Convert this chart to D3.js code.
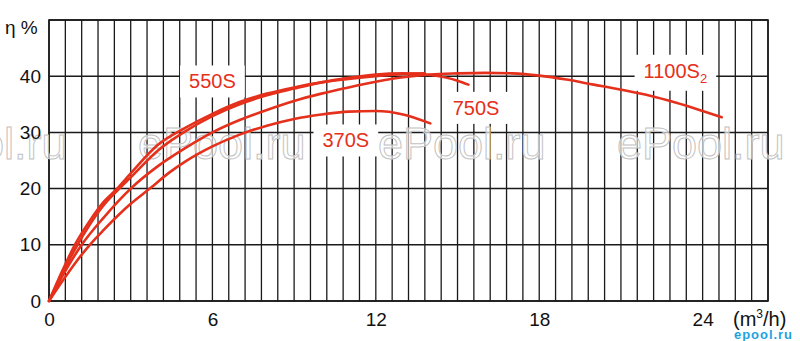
<!DOCTYPE html>
<html>
<head>
<meta charset="utf-8">
<script src="https://cdn.jsdelivr.net/npm/d3@7"></script>
<style>
body { margin: 0; background: #fff; }
svg { display: block; font-family: "Liberation Sans", Arial, sans-serif; }
</style>
</head>
<body>
<svg id="drawing_region"></svg>
<script>
// axis ticks
const xTicks = [0, 6, 12, 18, 24];
const yTicks = [0, 10, 20, 30, 40];

// efficiency curves, flow in m3/h and eta in %
const flow370 = [0, 0.5, 1, 1.5, 2, 3, 3.7, 4.4, 5, 6, 7, 8, 9, 10, 11, 12, 13, 14];
const eta370 = [0, 3.6, 7, 10, 12.6, 17.3, 20, 22.8, 24.8, 27.5, 29.6, 31.2, 32.4, 33.2, 33.7, 33.8, 33.2, 31.6];

const flow550 = [0, 0.5, 0.95, 1.5, 2, 2.5, 3, 4, 5, 6, 7, 8, 9, 10, 11, 12, 13, 13.8];
const eta550 = [0, 5.5, 10, 14.3, 17.6, 20, 22.7, 27.8, 30.8, 33.3, 35.4, 36.9, 38, 38.9, 39.5, 40, 40.4, 40.5];

const flow750 = [0, 0.5, 1, 1.5, 2, 2.5, 3, 4, 5, 6, 7, 8, 9, 10, 11, 12, 13, 14, 15, 15.4];
const eta750 = [0, 5, 9.6, 13.6, 17, 19.6, 22, 26.8, 30.2, 32.9, 35, 36.6, 37.8, 38.9, 39.7, 40.3, 40.5, 40.2, 39.2, 38.5];

const flow1100 = [0, 0.5, 1.2, 2, 3, 4, 5, 6, 7, 8, 9, 10, 11, 12, 13, 14, 15, 16, 17, 18, 19, 20, 21, 22, 23, 24, 24.7];
const eta1100 = [0, 4.5, 10, 14.8, 20, 24, 27.2, 30, 32.2, 34, 35.6, 36.9, 38, 39, 39.8, 40.3, 40.5, 40.6, 40.5, 40.1, 39.4, 38.5, 37.6, 36.6, 35.3, 33.8, 32.7];

const seriesNames = ['370S', '550S', '750S', '1100S'];

class EfficiencyChart {

    constructor(config, data) {
        this.config = config;
        this.data = data;
        this.init();
    }

    init() {
        let self = this;

        self.svg = d3.select(self.config.parent)
            .attr('width', self.config.width)
            .attr('height', self.config.height);

        self.chart = self.svg.append('g')
            .attr('transform', `translate(${self.config.margin.left}, ${self.config.margin.top})`);

        self.inner_width = self.config.width - self.config.margin.left - self.config.margin.right;
        self.inner_height = self.config.height - self.config.margin.top - self.config.margin.bottom;

        self.xscale = d3.scaleLinear()
            .domain([0, 26.4])
            .range([0, self.inner_width]);

        self.yscale = d3.scaleLinear()
            .domain([0, 50])
            .range([self.inner_height, 0]);

        self.line = d3.line()
            .x(d => self.xscale(d[0]))
            .y(d => self.yscale(d[1]))
            .curve(d3.curveMonotoneX);

        // layers, back to front
        self.grid_layer = self.chart.append('g');
        self.wm_layer = self.chart.append('g')
            .attr('transform', `translate(${-self.config.margin.left}, ${-self.config.margin.top})`);
        self.box_layer = self.chart.append('g');
        self.curve_layer = self.chart.append('g');
        self.text_layer = self.chart.append('g');
    }

    render() {
        let self = this;
        const red = '#e5301c';

        // grid
        self.grid_layer.selectAll('.vline')
            .data(d3.range(0, 45).map(i => i * 0.6))
            .enter()
            .append('line')
            .attr('x1', d => self.xscale(d))
            .attr('x2', d => self.xscale(d))
            .attr('y1', 0)
            .attr('y2', self.inner_height)
            .attr('stroke', '#1a1a1a')
            .attr('stroke-width', 1.3);
        self.grid_layer.selectAll('.hline')
            .data([0, 10, 20, 30, 40, 50])
            .enter()
            .append('line')
            .attr('x1', 0)
            .attr('x2', self.inner_width)
            .attr('y1', d => self.yscale(d))
            .attr('y2', d => self.yscale(d))
            .attr('stroke', '#1a1a1a')
            .attr('stroke-width', 1.5);
        self.grid_layer.append('rect')
            .attr('width', self.inner_width)
            .attr('height', self.inner_height)
            .attr('fill', 'none')
            .attr('stroke', '#1a1a1a')
            .attr('stroke-width', 1.6);

        // watermark
        [-101, 138, 378, 617].forEach(x => {
            self.wm_layer.append('text')
                .attr('x', x)
                .attr('y', 159)
                .attr('font-size', 45)
                .attr('fill', '#fff')
                .attr('fill-opacity', 0.65)
                .attr('stroke', '#c2c2c2')
                .attr('stroke-width', 1)
                .text('ePool.ru');
        });

        // curves
        self.curve_layer.selectAll('path')
            .data(self.data)
            .enter()
            .append('path')
            .attr('d', d => self.line(d.points))
            .attr('fill', 'none')
            .attr('stroke', red)
            .attr('stroke-width', 2.6)
            .attr('stroke-linecap', 'round');

        // labels with white boxes
        const labels = [
            { name: seriesNames[1], x: 6.0, y: 39.1 },
            { name: seriesNames[0], x: 10.9, y: 28.6 },
            { name: seriesNames[2], x: 15.68, y: 34.4 },
            { name: seriesNames[3], x: 23.0, y: 41.0, sub: '2' }
        ];
        labels.forEach(l => {
            const rect = self.box_layer.append('rect').attr('fill', '#fff');
            const t = self.text_layer.append('text')
                .attr('x', self.xscale(l.x))
                .attr('y', self.yscale(l.y))
                .attr('text-anchor', 'middle')
                .attr('dy', '0.36em')
                .attr('font-size', 20)
                .attr('fill', red)
                .text(l.name);
            if (l.sub) {
                t.append('tspan')
                    .attr('font-size', 13)
                    .attr('dy', 5)
                    .text(l.sub);
            }
            const b = t.node().getBBox();
            rect.attr('x', b.x - 9).attr('y', b.y - 5)
                .attr('width', b.width + 18).attr('height', b.height + 10);
        });

        // axes
        const xaxis = d3.axisBottom(self.xscale)
            .tickValues(xTicks)
            .tickSize(0)
            .tickPadding(12);
        const yaxis = d3.axisLeft(self.yscale)
            .tickValues(yTicks)
            .tickSize(0)
            .tickPadding(8);

        self.chart.append('g')
            .attr('transform', `translate(0, ${self.inner_height})`)
            .call(xaxis)
            .call(g => g.select('.domain').remove())
            .selectAll('text')
            .attr('font-size', 19)
            .attr('font-family', '"Liberation Sans", Arial, sans-serif')
            .attr('fill', '#111');

        self.chart.append('g')
            .call(yaxis)
            .call(g => g.select('.domain').remove())
            .selectAll('text')
            .attr('font-size', 19)
            .attr('font-family', '"Liberation Sans", Arial, sans-serif')
            .attr('fill', '#111');

        self.svg.append('text')
            .attr('x', 5)
            .attr('y', 34)
            .attr('font-size', 19)
            .attr('fill', '#111')
            .text('η %');

        const unit = self.svg.append('text')
            .attr('x', 733)
            .attr('y', 326)
            .attr('font-size', 20)
            .attr('fill', '#111');
        unit.append('tspan').text('(m');
        unit.append('tspan').attr('font-size', 12).attr('dy', -8).text('3');
        unit.append('tspan').attr('dy', 8).text('/h)');

        self.svg.append('text')
            .attr('x', 734)
            .attr('y', 339)
            .attr('font-size', 13)
            .attr('font-weight', 'bold')
            .attr('fill', '#1ea3de')
            .attr('textLength', 58)
            .text('epool.ru');
    }
}

const zip = (xs, ys) => xs.map((x, i) => [x, ys[i]]);
const data = [
    { name: '370S', points: zip(flow370, eta370) },
    { name: '550S', points: zip(flow550, eta550) },
    { name: '750S', points: zip(flow750, eta750) },
    { name: '1100S', points: zip(flow1100, eta1100) }
];

const config = {
    parent: '#drawing_region',
    width: 800,
    height: 341,
    margin: { top: 20, right: 32, bottom: 40, left: 49 }
};

const chart = new EfficiencyChart(config, data);
chart.render();
</script>
</body>
</html>
